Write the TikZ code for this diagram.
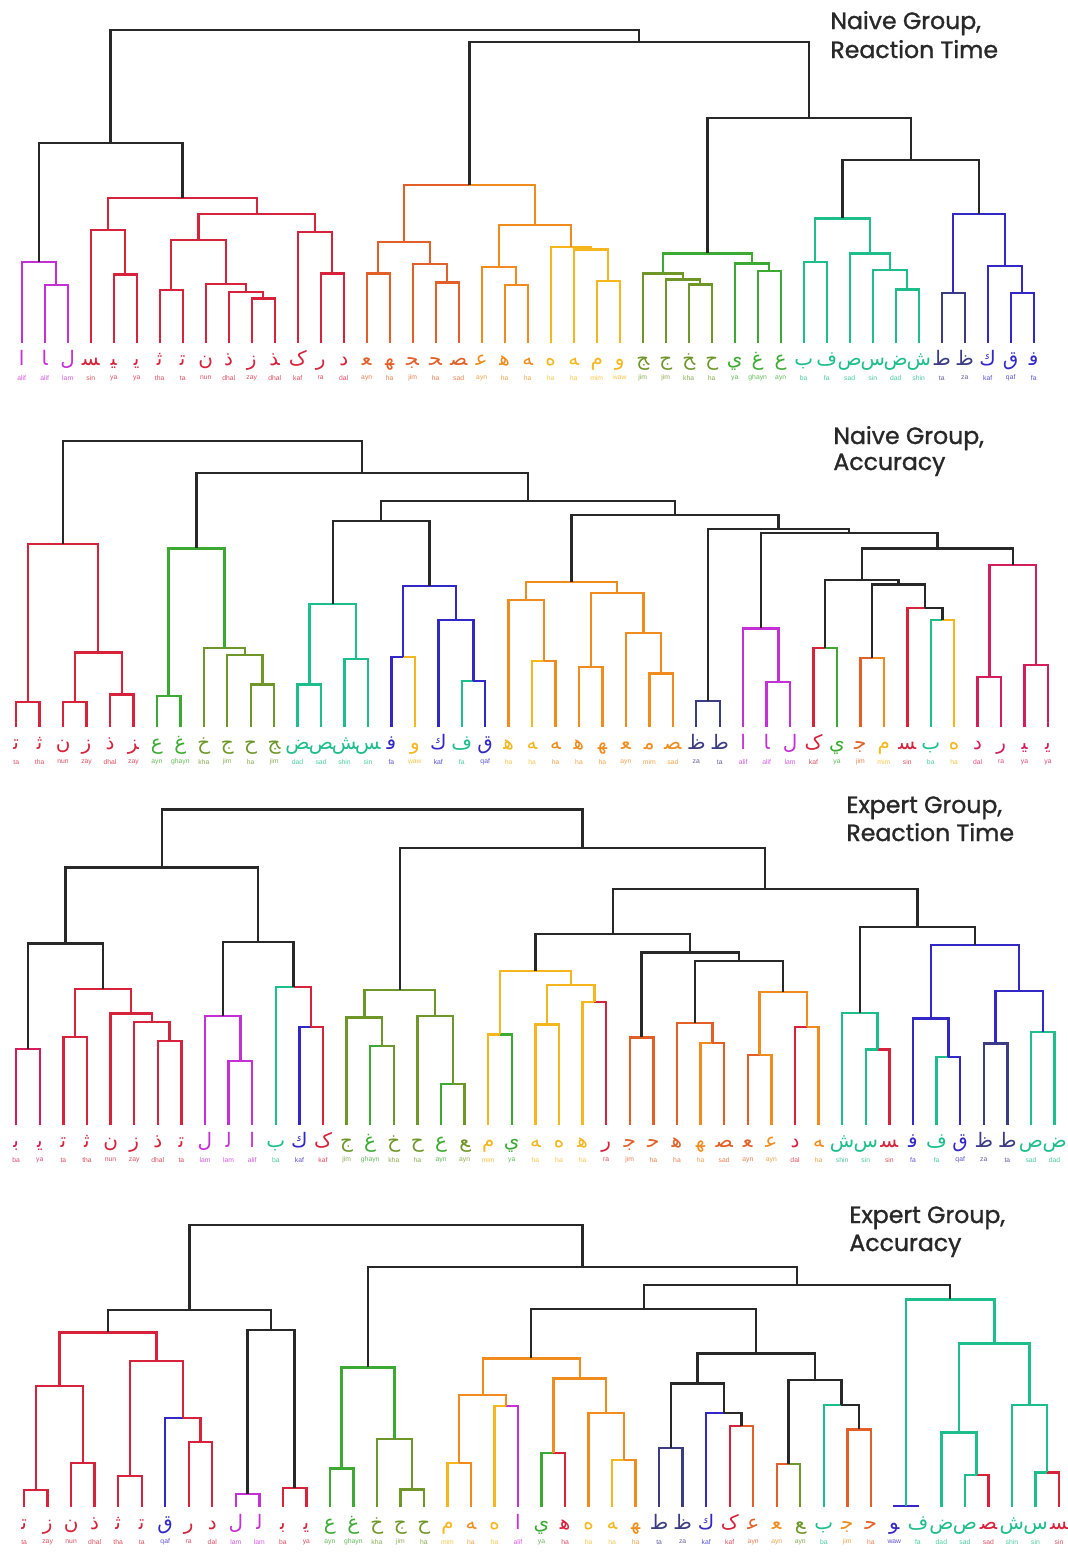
\documentclass[tikz,border=0pt]{standalone}
\usepackage{fontspec}
\setmainfont{Liberation Sans}
\newfontfamily\arabicfont[Script=Arabic]{DejaVu Sans}
\newfontfamily\titlefont[FakeBold=1.2]{Poppins}
\usetikzlibrary{calc}
\definecolor{cPur}{RGB}{196,48,214}
\definecolor{cRed}{RGB}{214,34,58}
\definecolor{cRdp}{RGB}{212,30,90}
\definecolor{cOrd}{RGB}{226,96,40}
\definecolor{cOrg}{RGB}{240,140,30}
\definecolor{cYel}{RGB}{245,182,30}
\definecolor{cOlv}{RGB}{110,150,40}
\definecolor{cGrn}{RGB}{60,170,50}
\definecolor{cTel}{RGB}{30,190,140}
\definecolor{cBlu}{RGB}{50,40,200}
\definecolor{cNav}{RGB}{60,60,130}
\definecolor{cBlk}{RGB}{40,40,40}
\tikzset{
  lk/.style={line width=1.2pt},
  lett/.style={font=\arabicfont\fontsize{10}{10}\selectfont, inner sep=0pt},
  tlab/.style={font=\fontsize{3.4}{4}\selectfont, inner sep=0pt},
  titl/.style={font=\titlefont\fontsize{11.8}{14}\selectfont, inner sep=0pt, text=cBlk, anchor=base west}
}
\newcommand\leaves[5]{%
  \foreach \i/\ch/\nm/\col in {#5}{%
    \pgfmathsetmacro\lx{#2+#3*\i}%
    \coordinate (#1\i) at (\lx,#4);
    \node[lett,text=\col,anchor=base] (#1\i l) at (\lx,#4+22) {\ch};
    \node[tlab,text=\col!80!white] (#1\i t) at (\lx,#4+35) {\nm};
  }%
}
% link: name, child a, child b, height, colour of a side, colour of b side
\newcommand\lk[6]{%
  \coordinate (#1m) at ($(#2)!0.5!(#3)$);
  \coordinate (#1) at (#1m |- 0,#4);
  \draw[lk,#5] (#2) |- (#1);
  \draw[lk,#6] (#1) -| (#3);
}
\begin{document}
\begin{tikzpicture}[x=0.5pt,y=-0.5pt]
\useasboundingbox (0,0) rectangle (1067,1554);

% ================= Naive Group, Reaction Time =================
\node[titl] (t1a) at (830,29) {Naive Group,};
\node[titl] (t1b) at (830,58) {Reaction Time};
\leaves{A}{21.7}{23}{343}{0/^^^^fe8d/alif/cPur,1/^^^^fe8e/alif/cPur,2/^^^^fedd/lam/cPur,3/^^^^feb4/sin/cRed,4/^^^^fef4/ya/cRed,5/^^^^fef3/ya/cRed,6/^^^^fe9b/tha/cRed,7/^^^^fe97/ta/cRed,8/^^^^fee5/nun/cRed,9/^^^^feab/dhal/cRed,10/^^^^feaf/zay/cRed,11/^^^^feac/dhal/cRed,12/^^^^fb8e/kaf/cRed,13/^^^^fead/ra/cRed,14/^^^^fea9/dal/cRed,15/^^^^fecc/ayn/cOrd,16/^^^^feec/ha/cOrd,17/^^^^fea0/jim/cOrd,18/^^^^fea4/ha/cOrd,19/^^^^febc/sad/cOrd,20/^^^^fecb/ayn/cOrg,21/^^^^feeb/ha/cOrg,22/^^^^feea/ha/cOrg,23/^^^^fee9/ha/cYel,24/^^^^feea/ha/cYel,25/^^^^fee1/mim/cYel,26/^^^^feed/waw/cYel,27/^^^^fe9e/jim/cOlv,28/^^^^fe9d/jim/cOlv,29/^^^^fea6/kha/cOlv,30/^^^^fea1/ha/cOlv,31/^^^^fef1/ya/cGrn,32/^^^^fecd/ghayn/cGrn,33/^^^^fec9/ayn/cGrn,34/^^^^fe8f/ba/cTel,35/^^^^fed1/fa/cTel,36/^^^^feb9/sad/cTel,37/^^^^feb1/sin/cTel,38/^^^^febd/dad/cTel,39/^^^^feb5/shin/cTel,40/^^^^fec1/ta/cNav,41/^^^^fec5/za/cNav,42/^^^^fed9/kaf/cBlu,43/^^^^fed5/qaf/cBlu,44/^^^^fed3/fa/cBlu}
\lk{Ak1n2}{A1}{A2}{285}{cPur}{cPur}
\lk{Apur}{A0}{Ak1n2}{261.7}{cPur}{cPur}
\lk{Ak4n5}{A4}{A5}{274.3}{cRed}{cRed}
\lk{Ar1}{A3}{Ak4n5}{230}{cRed}{cRed}
\lk{Ak6n7}{A6}{A7}{290}{cRed}{cRed}
\lk{Ak10n11}{A10}{A11}{298.3}{cRed}{cRed}
\lk{Ak9x}{A9}{Ak10n11}{291.7}{cRed}{cRed}
\lk{Ak8x}{A8}{Ak9x}{284}{cRed}{cRed}
\lk{Ae}{Ak6n7}{Ak8x}{240}{cRed}{cRed}
\lk{Ak13n14}{A13}{A14}{273.3}{cRed}{cRed}
\lk{Ag}{A12}{Ak13n14}{231.7}{cRed}{cRed}
\lk{Ah}{Ae}{Ag}{214}{cRed}{cRed}
\lk{Ai}{Ar1}{Ah}{198}{cRed}{cRed}
\lk{AL}{Apur}{Ai}{143}{cBlk}{cBlk}
\lk{Ak15n16}{A15}{A16}{273.3}{cOrd}{cOrd}
\lk{Ak18n19}{A18}{A19}{282.3}{cOrd}{cOrd}
\lk{Ak17x}{A17}{Ak18n19}{264}{cOrd}{cOrd}
\lk{Ao1}{Ak15n16}{Ak17x}{241.7}{cOrd}{cOrd}
\lk{Ak21n22}{A21}{A22}{285}{cOrg}{cOrg}
\lk{Ak20x}{A20}{Ak21n22}{266.7}{cOrg}{cOrg}
\lk{Ak25n26}{A25}{A26}{280.7}{cYel}{cYel}
\lk{Ak24x}{A24}{Ak25n26}{249.3}{cYel}{cYel}
\lk{Ak23x}{A23}{Ak24x}{246.7}{cYel}{cYel}
\lk{Ao2}{Ak20x}{Ak23x}{225}{cOrg}{cOrg}
\lk{AM}{Ao1}{Ao2}{185}{cOrd}{cOrg}
\lk{Ak29n30}{A29}{A30}{284.3}{cOlv}{cOlv}
\lk{Ak28x}{A28}{Ak29n30}{279.3}{cOlv}{cOlv}
\lk{Ak27x}{A27}{Ak28x}{273.3}{cOlv}{cOlv}
\lk{Ak32n33}{A32}{A33}{270.7}{cGrn}{cGrn}
\lk{Ak31x}{A31}{Ak32n33}{263.3}{cGrn}{cGrn}
\lk{Agr}{Ak27x}{Ak31x}{253.3}{cGrn}{cGrn}
\lk{Ak34n35}{A34}{A35}{261.7}{cTel}{cTel}
\lk{Ak38n39}{A38}{A39}{289.3}{cTel}{cTel}
\lk{Ak37x}{A37}{Ak38n39}{270}{cTel}{cTel}
\lk{Ak36x}{A36}{Ak37x}{253.3}{cTel}{cTel}
\lk{Ate}{Ak34n35}{Ak36x}{218.3}{cTel}{cTel}
\lk{Ak40n41}{A40}{A41}{292.7}{cNav}{cNav}
\lk{Ak43n44}{A43}{A44}{292.7}{cBlu}{cBlu}
\lk{Ak42x}{A42}{Ak43n44}{266}{cBlu}{cBlu}
\lk{Abl}{Ak40n41}{Ak42x}{214}{cBlu}{cBlu}
\lk{Atb}{Ate}{Abl}{160}{cBlk}{cBlk}
\lk{AR}{Agr}{Atb}{118}{cBlk}{cBlk}
\lk{AMR}{AM}{AR}{42}{cBlk}{cBlk}
\lk{Atop}{AL}{AMR}{30}{cBlk}{cBlk}

% ================= Naive Group, Accuracy =================
\node[titl] (t2a) at (833,444) {Naive Group,};
\node[titl] (t2b) at (833,470) {Accuracy};
\leaves{B}{16.2}{23.45}{727}{0/^^^^fe97/ta/cRed,1/^^^^fe9b/tha/cRed,2/^^^^fee5/nun/cRed,3/^^^^feaf/zay/cRed,4/^^^^feab/dhal/cRed,5/^^^^feb0/zay/cRed,6/^^^^fec9/ayn/cGrn,7/^^^^fecd/ghayn/cGrn,8/^^^^fea5/kha/cOlv,9/^^^^fe9d/jim/cOlv,10/^^^^fea1/ha/cOlv,11/^^^^fe9e/jim/cOlv,12/^^^^febe/dad/cTel,13/^^^^feba/sad/cTel,14/^^^^feb6/shin/cTel,15/^^^^feb2/sin/cTel,16/^^^^fed3/fa/cBlu,17/^^^^feed/waw/cYel,18/^^^^fed9/kaf/cBlu,19/^^^^fed1/fa/cTel,20/^^^^fed5/qaf/cBlu,21/^^^^feeb/ha/cYel,22/^^^^feea/ha/cYel,23/^^^^feea/ha/cOrg,24/^^^^feeb/ha/cOrg,25/^^^^feec/ha/cOrg,26/^^^^fecc/ayn/cOrg,27/^^^^fee3/mim/cOrg,28/^^^^febc/sad/cOrg,29/^^^^fec5/za/cNav,30/^^^^fec1/ta/cNav,31/^^^^fe8d/alif/cPur,32/^^^^fe8e/alif/cPur,33/^^^^fedd/lam/cPur,34/^^^^fb8e/kaf/cRed,35/^^^^fef1/ya/cGrn,36/^^^^fe9f/jim/cOrd,37/^^^^fee1/mim/cYel,38/^^^^feb4/sin/cRed,39/^^^^fe8f/ba/cTel,40/^^^^fee9/ha/cYel,41/^^^^fea9/dal/cRdp,42/^^^^fead/ra/cRdp,43/^^^^fef4/ya/cRdp,44/^^^^fef3/ya/cRdp}
\lk{Bk0n1}{B0}{B1}{701.7}{cRed}{cRed}
\lk{Bk2n3}{B2}{B3}{701.7}{cRed}{cRed}
\lk{Bk4n5}{B4}{B5}{694.3}{cRed}{cRed}
\lk{Bk2x}{Bk2n3}{Bk4n5}{652.3}{cRed}{cRed}
\lk{Bred}{Bk0n1}{Bk2x}{544}{cRed}{cRed}
\lk{Bk6n7}{B6}{B7}{695.7}{cGrn}{cGrn}
\lk{Bk10n11}{B10}{B11}{684.3}{cOlv}{cOlv}
\lk{Bk9x}{B9}{Bk10n11}{655}{cOlv}{cOlv}
\lk{Bk8x}{B8}{Bk9x}{647.7}{cOlv}{cOlv}
\lk{Bgrn}{Bk6n7}{Bk8x}{548.3}{cGrn}{cGrn}
\lk{Bk12n13}{B12}{B13}{684.3}{cTel}{cTel}
\lk{Bk14n15}{B14}{B15}{659}{cTel}{cTel}
\lk{Btel}{Bk12n13}{Bk14n15}{604}{cTel}{cTel}
\lk{Bk16n17}{B16}{B17}{656.7}{cBlu}{cYel}
\lk{Bk19n20}{B19}{B20}{681}{cTel}{cBlu}
\lk{Bk18x}{B18}{Bk19n20}{620}{cBlu}{cBlu}
\lk{Bblu}{Bk16n17}{Bk18x}{586}{cBlu}{cBlu}
\lk{BZa}{Btel}{Bblu}{521}{cBlk}{cBlk}
\lk{Bk22n23}{B22}{B23}{661}{cYel}{cOrg}
\lk{Bk21x}{B21}{Bk22n23}{600}{cOrg}{cOrg}
\lk{Bk24n25}{B24}{B25}{666.7}{cOrg}{cOrg}
\lk{Bk27n28}{B27}{B28}{673.3}{cOrg}{cOrg}
\lk{Bk26x}{B26}{Bk27n28}{632.7}{cOrg}{cOrg}
\lk{Bk24x}{Bk24n25}{Bk26x}{592.7}{cOrg}{cOrg}
\lk{Bora}{Bk21x}{Bk24x}{581.7}{cOrg}{cOrg}
\lk{Bk29n30}{B29}{B30}{701}{cNav}{cNav}
\lk{Bk32n33}{B32}{B33}{681.7}{cPur}{cPur}
\lk{Bpur}{B31}{Bk32n33}{628.3}{cPur}{cPur}
\lk{Bk34n35}{B34}{B35}{647.7}{cRed}{cGrn}
\lk{Bk36n37}{B36}{B37}{657.7}{cOrd}{cOrg}
\lk{Bk39n40}{B39}{B40}{620}{cTel}{cYel}
\lk{Bk38x}{B38}{Bk39n40}{607.7}{cRed}{cBlk}
\lk{BT}{Bk36n37}{Bk38x}{584.3}{cBlk}{cBlk}
\lk{BU}{Bk34n35}{BT}{580}{cBlk}{cBlk}
\lk{Bk41n42}{B41}{B42}{676.7}{cRdp}{cRdp}
\lk{Bk43n44}{B43}{B44}{665}{cRdp}{cRdp}
\lk{Bred2}{Bk41n42}{Bk43n44}{565}{cRdp}{cRdp}
\lk{BV}{BU}{Bred2}{548.3}{cBlk}{cBlk}
\lk{BW}{Bpur}{BV}{532.7}{cBlk}{cBlk}
\lk{BZ}{Bk29n30}{BW}{529}{cBlk}{cBlk}
\lk{BO}{Bora}{BZ}{515}{cBlk}{cBlk}
\lk{BY}{BZa}{BO}{501}{cBlk}{cBlk}
\lk{BX}{Bgrn}{BY}{472.7}{cBlk}{cBlk}
\lk{Btop}{Bred}{BX}{440.7}{cBlk}{cBlk}

% ================= Expert Group, Reaction Time =================
\node[titl] (t3a) at (846,813) {Expert Group,};
\node[titl] (t3b) at (846,841) {Reaction Time};
\leaves{C}{16.2}{23.6}{1125}{0/^^^^fe91/ba/cRdp,1/^^^^fef3/ya/cRdp,2/^^^^fe97/ta/cRed,3/^^^^fe9b/tha/cRed,4/^^^^fee5/nun/cRed,5/^^^^feaf/zay/cRed,6/^^^^feab/dhal/cRed,7/^^^^fe97/ta/cRed,8/^^^^fedd/lam/cPur,9/^^^^fedf/lam/cPur,10/^^^^fe8d/alif/cPur,11/^^^^fe8f/ba/cTel,12/^^^^fed9/kaf/cBlu,13/^^^^fb8e/kaf/cRed,14/^^^^fe9d/jim/cOlv,15/^^^^fecd/ghayn/cGrn,16/^^^^fea5/kha/cOlv,17/^^^^fea1/ha/cOlv,18/^^^^fec9/ayn/cGrn,19/^^^^feca/ayn/cOlv,20/^^^^fee1/mim/cYel,21/^^^^fef1/ya/cGrn,22/^^^^feea/ha/cYel,23/^^^^fee9/ha/cYel,24/^^^^feeb/ha/cYel,25/^^^^fead/ra/cRed,26/^^^^fe9f/jim/cOrd,27/^^^^fea3/ha/cOrd,28/^^^^feeb/ha/cOrd,29/^^^^feec/ha/cOrg,30/^^^^febc/sad/cOrd,31/^^^^fecc/ayn/cOrd,32/^^^^fecb/ayn/cOrg,33/^^^^fea9/dal/cRed,34/^^^^feea/ha/cOrg,35/^^^^feb5/shin/cTel,36/^^^^feb1/sin/cTel,37/^^^^feb4/sin/cRed,38/^^^^fed3/fa/cBlu,39/^^^^fed1/fa/cTel,40/^^^^fed5/qaf/cBlu,41/^^^^fec5/za/cNav,42/^^^^fec1/ta/cNav,43/^^^^feb9/sad/cTel,44/^^^^febd/dad/cTel}
\lk{Ck0n1}{C0}{C1}{1049}{cRdp}{cRdp}
\lk{Ck2n3}{C2}{C3}{1036.7}{cRed}{cRed}
\lk{Ck6n7}{C6}{C7}{1040.7}{cRed}{cRed}
\lk{Ck5x}{C5}{Ck6n7}{1021.7}{cRed}{cRed}
\lk{Ck4x}{C4}{Ck5x}{1013.3}{cRed}{cRed}
\lk{Ck2x}{Ck2n3}{Ck4x}{989}{cRed}{cRed}
\lk{CLa}{Ck0n1}{Ck2x}{943.3}{cBlk}{cBlk}
\lk{Ck9n10}{C9}{C10}{1060.7}{cPur}{cPur}
\lk{Ck8x}{C8}{Ck9n10}{1016}{cPur}{cPur}
\lk{Ck12n13}{C12}{C13}{1026.7}{cBlu}{cRed}
\lk{Ck11x}{C11}{Ck12n13}{986.7}{cTel}{cRed}
\lk{CLb}{Ck8x}{Ck11x}{941.7}{cBlk}{cBlk}
\lk{CL}{CLa}{CLb}{867.3}{cBlk}{cBlk}
\lk{Ck15n16}{C15}{C16}{1045.7}{cGrn}{cOlv}
\lk{Ck14x}{C14}{Ck15n16}{1017.3}{cOlv}{cOlv}
\lk{Ck18n19}{C18}{C19}{1084}{cGrn}{cOlv}
\lk{Ck17x}{C17}{Ck18n19}{1016}{cOlv}{cOlv}
\lk{Cgrn}{Ck14x}{Ck17x}{990}{cOlv}{cOlv}
\lk{Ck20n21}{C20}{C21}{1034.3}{cYel}{cGrn}
\lk{Ck22n23}{C22}{C23}{1024.3}{cYel}{cYel}
\lk{Ck24n25}{C24}{C25}{1001.7}{cYel}{cRed}
\lk{Ck22x}{Ck22n23}{Ck24n25}{985}{cYel}{cYel}
\lk{Cyel}{Ck20n21}{Ck22x}{970.7}{cYel}{cYel}
\lk{Ck26n27}{C26}{C27}{1037.3}{cOrd}{cOrd}
\lk{Ck29n30}{C29}{C30}{1042.7}{cOrg}{cOrd}
\lk{Ck28x}{C28}{Ck29n30}{1022.7}{cOrd}{cOrd}
\lk{Ck31n32}{C31}{C32}{1055}{cOrd}{cOrg}
\lk{Ck33n34}{C33}{C34}{1026.7}{cRed}{cOrg}
\lk{Ck31x}{Ck31n32}{Ck33n34}{991.7}{cOrg}{cOrg}
\lk{Ck28y}{Ck28x}{Ck31x}{960.7}{cBlk}{cBlk}
\lk{Ck26x}{Ck26n27}{Ck28y}{952.3}{cBlk}{cBlk}
\lk{Cyo}{Cyel}{Ck26x}{934}{cBlk}{cBlk}
\lk{Ck36n37}{C36}{C37}{1049.3}{cTel}{cRed}
\lk{Ctel}{C35}{Ck36n37}{1012.7}{cTel}{cTel}
\lk{Ck39n40}{C39}{C40}{1056.7}{cTel}{cBlu}
\lk{Ck38x}{C38}{Ck39n40}{1018.3}{cBlu}{cBlu}
\lk{Ck41n42}{C41}{C42}{1043.3}{cNav}{cNav}
\lk{Ck43n44}{C43}{C44}{1031.7}{cTel}{cTel}
\lk{Ck41x}{Ck41n42}{Ck43n44}{991}{cBlu}{cBlu}
\lk{Cblu}{Ck38x}{Ck41x}{945}{cBlu}{cBlu}
\lk{Ctb}{Ctel}{Cblu}{926.7}{cBlk}{cBlk}
\lk{Cyb}{Cyo}{Ctb}{889}{cBlk}{cBlk}
\lk{CR}{Cgrn}{Cyb}{847.7}{cBlk}{cBlk}
\lk{Ctop}{CL}{CR}{809.3}{cBlk}{cBlk}

% ================= Expert Group, Accuracy =================
\node[titl] (t4a) at (849,1223) {Expert Group,};
\node[titl] (t4b) at (849,1251) {Accuracy};
\leaves{D}{24.1}{23.52}{1507}{0/^^^^fe97/ta/cRed,1/^^^^feaf/zay/cRed,2/^^^^fee5/nun/cRed,3/^^^^feab/dhal/cRed,4/^^^^fe9b/tha/cRed,5/^^^^fe97/ta/cRed,6/^^^^fed5/qaf/cBlu,7/^^^^fead/ra/cRed,8/^^^^fea9/dal/cRed,9/^^^^fedd/lam/cPur,10/^^^^fedf/lam/cPur,11/^^^^fe91/ba/cRed,12/^^^^fef3/ya/cRed,13/^^^^fec9/ayn/cGrn,14/^^^^fecd/ghayn/cGrn,15/^^^^fea5/kha/cOlv,16/^^^^fe9d/jim/cOlv,17/^^^^fea1/ha/cOlv,18/^^^^fee1/mim/cYel,19/^^^^feea/ha/cOrg,20/^^^^fee9/ha/cYel,21/^^^^fe8d/alif/cPur,22/^^^^fef1/ya/cGrn,23/^^^^feeb/ha/cRed,24/^^^^fee9/ha/cYel,25/^^^^feea/ha/cYel,26/^^^^feec/ha/cOrg,27/^^^^fec1/ta/cNav,28/^^^^fec5/za/cNav,29/^^^^fed9/kaf/cBlu,30/^^^^fb8e/kaf/cRed,31/^^^^fecb/ayn/cOrd,32/^^^^fecc/ayn/cOrg,33/^^^^feca/ayn/cOlv,34/^^^^fe8f/ba/cTel,35/^^^^fe9f/jim/cOrg,36/^^^^fea3/ha/cOrd,37/^^^^feee/waw/cBlu,38/^^^^fed1/fa/cTel,39/^^^^febd/dad/cTel,40/^^^^feb9/sad/cTel,41/^^^^febc/sad/cRed,42/^^^^feb5/shin/cTel,43/^^^^feb1/sin/cTel,44/^^^^feb4/sin/cRed}
\lk{Dk0n1}{D0}{D1}{1490}{cRed}{cRed}
\lk{Dk2n3}{D2}{D3}{1462.7}{cRed}{cRed}
\lk{Da}{Dk0n1}{Dk2n3}{1385.7}{cRed}{cRed}
\lk{Dk4n5}{D4}{D5}{1476}{cRed}{cRed}
\lk{Dk7n8}{D7}{D8}{1441.7}{cRed}{cRed}
\lk{Dk6x}{D6}{Dk7n8}{1417.7}{cBlu}{cRed}
\lk{Db}{Dk4n5}{Dk6x}{1361}{cRed}{cRed}
\lk{Dred}{Da}{Db}{1332.3}{cRed}{cRed}
\lk{Dk9n10}{D9}{D10}{1494}{cPur}{cPur}
\lk{Dk11n12}{D11}{D12}{1487.7}{cRed}{cRed}
\lk{Dbk}{Dk9n10}{Dk11n12}{1330}{cBlk}{cBlk}
\lk{DL}{Dred}{Dbk}{1310}{cBlk}{cBlk}
\lk{Dk13n14}{D13}{D14}{1468.3}{cGrn}{cGrn}
\lk{Dk16n17}{D16}{D17}{1489.3}{cOlv}{cOlv}
\lk{Dk15x}{D15}{Dk16n17}{1439}{cOlv}{cOlv}
\lk{Dgrn}{Dk13n14}{Dk15x}{1367.3}{cGrn}{cGrn}
\lk{Dk18n19}{D18}{D19}{1462.7}{cYel}{cOrg}
\lk{Dk20n21}{D20}{D21}{1406}{cYel}{cPur}
\lk{Dk18x}{Dk18n19}{Dk20n21}{1395}{cOrg}{cOrg}
\lk{Dk22n23}{D22}{D23}{1452.7}{cGrn}{cRed}
\lk{Dk25n26}{D25}{D26}{1460}{cYel}{cOrg}
\lk{Dk24x}{D24}{Dk25n26}{1412.7}{cOrg}{cOrg}
\lk{Dk22x}{Dk22n23}{Dk24x}{1378.3}{cOrg}{cOrg}
\lk{Dora}{Dk18x}{Dk22x}{1358.3}{cOrg}{cOrg}
\lk{Dk27n28}{D27}{D28}{1447.7}{cNav}{cNav}
\lk{Dk30n31}{D30}{D31}{1426}{cRed}{cOrd}
\lk{Dk29x}{D29}{Dk30n31}{1412.7}{cBlu}{cBlk}
\lk{Dk27x}{Dk27n28}{Dk29x}{1383.3}{cBlk}{cBlk}
\lk{Dk32n33}{D32}{D33}{1464}{cOrd}{cOlv}
\lk{Dk35n36}{D35}{D36}{1429.3}{cOrd}{cOrd}
\lk{Dk34x}{D34}{Dk35n36}{1405}{cTel}{cBlk}
\lk{Dk32x}{Dk32n33}{Dk34x}{1380}{cBlk}{cBlk}
\lk{Dbk2}{Dk27x}{Dk32x}{1353.3}{cBlk}{cBlk}
\lk{Dmid}{Dora}{Dbk2}{1309}{cBlk}{cBlk}
\lk{Dk37n38}{D37}{D38}{1506}{cBlu}{cBlu}
\lk{Dk40n41}{D40}{D41}{1475}{cTel}{cRed}
\lk{Dk39x}{D39}{Dk40n41}{1432.3}{cTel}{cTel}
\lk{Dk43n44}{D43}{D44}{1472.3}{cTel}{cRed}
\lk{Dk42x}{D42}{Dk43n44}{1405}{cTel}{cTel}
\lk{Dtel}{Dk39x}{Dk42x}{1343.3}{cTel}{cTel}
\lk{Dt2}{Dk37n38}{Dtel}{1299.3}{cTel}{cTel}
\lk{DR2}{Dmid}{Dt2}{1285}{cBlk}{cBlk}
\lk{DR}{Dgrn}{DR2}{1266.7}{cBlk}{cBlk}
\lk{Dtop}{DL}{DR}{1225}{cBlk}{cBlk}
\end{tikzpicture}
\end{document}
